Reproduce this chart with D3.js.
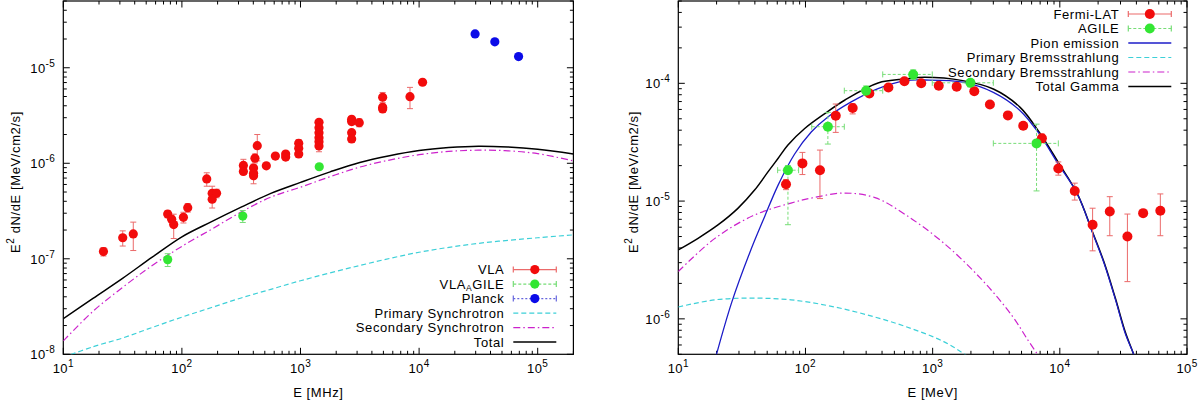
<!DOCTYPE html>
<html>
<head>
<meta charset="utf-8">
<script src="https://cdn.jsdelivr.net/npm/d3@7"></script>
<style>
	body { margin: 0; background: #fff; }
	svg text { font-family: "Liberation Sans", Arial, Helvetica, sans-serif; font-size: 13px; fill: #000; }
	svg text.lbl { letter-spacing: 0.6px; }
	svg text.tick { letter-spacing: 0.4px; }
</style>
</head>
<body>
<script>
// ---------- left panel: radio (E in MHz) ----------
var vlaE   = [21.8, 31.7, 38.9, 75.9, 82, 85.3, 103, 112, 162, 180, 196, 180, 330, 330, 402, 402, 402, 413, 432, 515, 614, 750, 750,
              966, 966, 966, 1432, 1432, 1432, 1432, 1432, 1432, 2700, 2700, 2700, 2700, 3130, 4930, 4930, 4930, 8380, 10700];
var vlaF   = [1.19e-7, 1.66e-7, 1.82e-7, 2.94e-7, 2.59e-7, 2.28e-7, 2.72e-7, 3.43e-7, 6.85e-7, 4.85e-7, 4.85e-7, 4.2e-7, 9.5e-7, 8.2e-7,
              8.9e-7, 7.85e-7, 7.4e-7, 1.13e-6, 1.53e-6, 9.4e-7, 1.19e-6, 1.25e-6, 1.16e-6, 1.62e-6, 1.44e-6, 1.25e-6,
              2.69e-6, 2.36e-6, 2.09e-6, 1.85e-6, 1.68e-6, 1.52e-6, 2.89e-6, 2.73e-6, 2.09e-6, 1.80e-6, 2.66e-6,
              4.91e-6, 3.85e-6, 3.71e-6, 4.98e-6, 7.05e-6];
var vlaErr = [0.12e-7, 0.3e-7, 0.6e-7, 0.25e-7, 0.2e-7, 0.65e-7, 0.35e-7, 0.35e-7, 1.1e-7, 0.9e-7, 0.5e-7, 0.8e-7, 1.5e-7, 0.6e-7,
              0.9e-7, 0.8e-7, 1.3e-7, 1.2e-7, 4.7e-7, 0.5e-7, 0.6e-7, 0.8e-7, 0.6e-7, 1.5e-7, 1.0e-7, 1.0e-7,
              1.0e-7, 1.0e-7, 1.0e-7, 1.0e-7, 1.0e-7, 2.0e-7, 2.0e-7, 2.0e-7, 1.5e-7, 1.5e-7, 2.5e-7,
              6.0e-7, 3.0e-7, 3.0e-7, 1.25e-6, 3.0e-7];

var vlaAgileE   = [75.9, 326, 1439];
var vlaAgileF   = [9.8e-8, 2.8e-7, 9.2e-7];
var vlaAgileErr = [1.5e-8, 0.4e-7, 0.5e-7];

var planckE = [29650, 43500, 69000];
var planckF = [2.26e-5, 1.87e-5, 1.31e-5];

var syncE     = [10, 17.8, 31.6, 56.2, 100, 178, 316, 562, 1000, 1778, 3162, 5623, 1e4, 17783, 31623, 56234, 1e5, 2e5];
var totalSync = [2.36e-8, 3.85e-8, 6.24e-8, 1.04e-7, 1.70e-7, 2.45e-7, 3.47e-7, 4.84e-7, 6.31e-7, 8.13e-7, 1.02e-6, 1.20e-6,
                 1.36e-6, 1.46e-6, 1.51e-6, 1.48e-6, 1.40e-6, 1.25e-6];
var secSync   = [1.38e-8, 2.82e-8, 5.01e-8, 8.51e-8, 1.35e-7, 2.04e-7, 3.09e-7, 4.42e-7, 5.62e-7, 7.24e-7, 9.12e-7, 1.08e-6,
                 1.23e-6, 1.33e-6, 1.37e-6, 1.35e-6, 1.26e-6, 1.06e-6];
var primSyncE = [10, 17.8, 31.6, 56.2, 100, 178, 316, 562, 1000, 3162, 1e4, 31623, 1e5, 2e5];
var primSync  = [9.3e-9, 1.20e-8, 1.48e-8, 1.91e-8, 2.45e-8, 3.09e-8, 3.89e-8, 4.79e-8, 5.89e-8, 8.51e-8, 1.17e-7, 1.45e-7, 1.66e-7, 1.78e-7];

// ---------- right panel: gamma (E in MeV) ----------
var fermiE  = [70.3, 94.6, 130, 173, 235, 318, 449, 600, 813, 1117, 1545, 2125, 2820, 3905, 5155, 7230, 9730, 13100, 18100, 24700, 34000, 45200, 61700];
var fermiF  = [1.39e-5, 2.09e-5, 1.83e-5, 5.31e-5, 6.17e-5, 8.2e-5, 9.2e-5, 1.04e-4, 1.0e-4, 9.55e-5, 9.37e-5, 8.55e-5, 6.62e-5,
               5.34e-5, 4.36e-5, 3.41e-5, 1.89e-5, 1.22e-5, 6.3e-6, 8.17e-6, 5.0e-6, 7.9e-6, 8.28e-6];
var fermiLo = [1.25e-5, 1.68e-5, 1.05e-5, 3.83e-5, 5.5e-5, 7.7e-5, 8.8e-5, 1.0e-4, 9.7e-5, 9.2e-5, 9.0e-5, 8.2e-5, 6.3e-5,
               5.05e-5, 4.1e-5, 3.15e-5, 1.66e-5, 1.02e-5, 3.78e-6, 5.08e-6, 2.07e-6, 7.6e-6, 5.08e-6];
var fermiHi = [1.52e-5, 2.59e-5, 2.71e-5, 6.67e-5, 6.7e-5, 8.7e-5, 9.6e-5, 1.08e-4, 1.03e-4, 9.9e-5, 9.7e-5, 8.9e-5, 6.95e-5,
               5.65e-5, 4.6e-5, 3.7e-5, 2.15e-5, 1.42e-5, 8.7e-6, 1.09e-5, 7.76e-6, 8.2e-6, 1.15e-5];

var agileE   = [72.8, 150, 300, 703, 1982, 6560];
var agileELo = [60.4, 112, 202, 405, 993, 3000];
var agileEHi = [88.3, 202, 405, 993, 3000, 9730];
var agileF   = [1.83e-5, 4.28e-5, 8.66e-5, 1.19e-4, 1.01e-4, 3.09e-5];
var agileFLo = [6.3e-6, 3.05e-5, 7.9e-5, 1.08e-4, 9.3e-5, 1.22e-5];
var agileFHi = [2.0e-5, 5.66e-5, 9.5e-5, 1.3e-4, 1.08e-4, 4.5e-5];

var pionE = [19.3, 26.3, 36.4, 47.8, 60.8, 82.2, 111, 150, 229, 372, 612, 865, 1726, 3000, 4875, 6887, 9727, 13740, 18110, 22280, 27420, 32660, 38020, 39810];
var pionF = [4.37e-7, 1.38e-6, 3.63e-6, 7.41e-6, 1.36e-5, 2.51e-5, 3.86e-5, 5.18e-5, 6.95e-5, 9.02e-5, 1.054e-4, 1.067e-4, 1.023e-4,
             8.38e-5, 5.86e-5, 3.72e-5, 2.06e-5, 1.15e-5, 5.35e-6, 2.97e-6, 1.45e-6, 7.55e-7, 5.01e-7, 4.27e-7];

var totGammaE = [10, 14.3, 20.5, 29.4, 39.8, 50.7, 60.8, 72.8, 98.6, 142, 203, 372, 612, 865, 1726, 3000, 4875, 6887, 9727, 13740,
                 18110, 22280, 27420, 32660, 38020, 39810];
var totGammaF = [3.85e-6, 4.83e-6, 6.27e-6, 8.67e-6, 1.24e-5, 1.77e-5, 2.30e-5, 2.99e-5, 4.13e-5, 5.53e-5, 7.18e-5, 1.007e-4, 1.089e-4,
                 1.125e-4, 1.054e-4, 8.95e-5, 6.25e-5, 3.84e-5, 2.13e-5, 1.15e-5, 5.43e-6, 3.02e-6, 1.48e-6, 7.76e-7, 5.01e-7, 4.3e-7];

var secBremE = [10, 19.3, 38.5, 76.9, 116, 202, 352, 612, 1222, 2438, 4246, 5598, 6653, 7000];
var secBremF = [2.52e-6, 4.8e-6, 7.5e-6, 9.62e-6, 1.07e-5, 1.17e-5, 1.07e-5, 7.66e-6, 4.40e-6, 2.15e-6, 1.05e-6, 6.62e-7, 5.01e-7, 4.5e-7];

var primBremE = [10, 19.3, 38.5, 76.9, 153, 306, 612, 1222, 1786, 1900];
var primBremF = [1.26e-6, 1.45e-6, 1.50e-6, 1.45e-6, 1.29e-6, 1.08e-6, 8.61e-7, 6.41e-7, 5.01e-7, 4.8e-7];

var RED = "#f20c0c", RED_ERR = "#eb6a6a", GREEN = "#33e633", GREEN_ERR = "#77dd77",
	BLUE = "#0b0be8", CYAN = "#3dd0d8", MAGENTA = "#cc22cc", PION = "#1c1cc8";

var svg = d3.select("body").append("svg")
	.attr("width", 1200)
	.attr("height", 400);

/*
* Sets up one log-log panel: frame, mirrored ticks, labels. Returns scales.
*/
function makePanel(p) {
	var x = d3.scaleLog().domain(p.xDomain).range([p.left, p.right]);
	var y = d3.scaleLog().domain(p.yDomain).range([p.bottom, p.top]);

	svg.append("clipPath").attr("id", p.id)
		.append("rect")
		.attr("x", p.left).attr("y", p.top)
		.attr("width", p.right - p.left).attr("height", p.bottom - p.top);

	var isMajor = function(v) {
		var l = Math.log10(v);
		return Math.abs(l - Math.round(l)) < 1e-6;
	};

	var axes = svg.append("g").attr("stroke", "#000").attr("stroke-width", 1);
	x.ticks().forEach(function(v) {
		var len = isMajor(v) ? 6.5 : 3.5, px = x(v);
		axes.append("line").attr("x1", px).attr("x2", px).attr("y1", p.bottom).attr("y2", p.bottom - len);
		axes.append("line").attr("x1", px).attr("x2", px).attr("y1", p.top).attr("y2", p.top + len);
	});
	y.ticks().forEach(function(v) {
		var len = isMajor(v) ? 6.5 : 3.5, py = y(v);
		axes.append("line").attr("y1", py).attr("y2", py).attr("x1", p.left).attr("x2", p.left + len);
		axes.append("line").attr("y1", py).attr("y2", py).attr("x1", p.right).attr("x2", p.right - len);
	});

	// tick labels, 10^n
	x.ticks().filter(isMajor).forEach(function(v) {
		var t = svg.append("text").attr("class", "tick").attr("x", x(v)).attr("y", p.bottom + 19).attr("text-anchor", "middle");
		t.append("tspan").text("10");
		t.append("tspan").attr("dy", -6).style("font-size", "10px").text(Math.round(Math.log10(v)));
	});
	y.ticks().filter(isMajor).forEach(function(v) {
		var t = svg.append("text").attr("class", "tick").attr("x", p.left - 8).attr("y", y(v) + 5).attr("text-anchor", "end");
		t.append("tspan").text("10");
		t.append("tspan").attr("dy", -6).style("font-size", "10px").text(Math.round(Math.log10(v)));
	});

	svg.append("rect")
		.attr("x", p.left).attr("y", p.top)
		.attr("width", p.right - p.left).attr("height", p.bottom - p.top)
		.attr("fill", "none").attr("stroke", "#000").attr("stroke-width", 1.2);

	svg.append("text")
		.attr("class", "lbl")
		.attr("x", (p.left + p.right) / 2).attr("y", 397)
		.attr("text-anchor", "middle")
		.text(p.xLabel);

	var yl = svg.append("text")
		.attr("class", "lbl")
		.attr("transform", "translate(" + p.yLabelX + "," + 182 + ") rotate(-90)")
		.attr("text-anchor", "middle");
	yl.append("tspan").text("E");
	yl.append("tspan").attr("dy", -6).style("font-size", "10px").text("2");
	yl.append("tspan").attr("dy", 6).text(" dN/dE [MeV/cm2/s]");

	var plot = svg.append("g").attr("clip-path", "url(#" + p.id + ")");
	return { x: x, y: y, plot: plot, p: p };
}

function drawCurve(panel, E, F, color, width, dash) {
	var line = d3.line()
		.x(function(d) { return panel.x(d[0]); })
		.y(function(d) { return panel.y(d[1]); })
		.curve(d3.curveCatmullRom.alpha(0.5));
	panel.plot.append("path")
		.datum(d3.zip(E, F))
		.attr("d", line)
		.attr("fill", "none")
		.attr("stroke", color)
		.attr("stroke-width", width)
		.attr("stroke-dasharray", dash || null);
}

function vBar(g, x, y1, y2, color, dash) {
	g.append("line").attr("x1", x).attr("x2", x).attr("y1", y1).attr("y2", y2)
		.attr("stroke", color).attr("stroke-dasharray", dash || null);
	[y1, y2].forEach(function(yy) {
		g.append("line").attr("x1", x - 3).attr("x2", x + 3).attr("y1", yy).attr("y2", yy)
			.attr("stroke", color);
	});
}

function hBar(g, y, x1, x2, color, dash) {
	g.append("line").attr("x1", x1).attr("x2", x2).attr("y1", y).attr("y2", y)
		.attr("stroke", color).attr("stroke-dasharray", dash || null);
	[x1, x2].forEach(function(xx) {
		g.append("line").attr("x1", xx).attr("x2", xx).attr("y1", y - 3).attr("y2", y + 3)
			.attr("stroke", color);
	});
}

function drawPoints(panel, E, F, color, r) {
	panel.plot.selectAll(null)
		.data(d3.zip(E, F))
		.enter().append("circle")
		.attr("cx", function(d) { return panel.x(d[0]); })
		.attr("cy", function(d) { return panel.y(d[1]); })
		.attr("r", r)
		.attr("fill", color);
}

/*
* gnuplot style key, text right aligned then a sample
*/
function drawKey(panel, rows, firstY) {
	var p = panel.p;
	var tx = p.left + 441, s1 = p.left + 450, s2 = p.left + 493;
	rows.forEach(function(row, i) {
		var cy = firstY + i * 14.5;
		var t = svg.append("text").attr("class", "lbl").attr("x", tx).attr("y", cy + 4.5).attr("text-anchor", "end");
		if (row.sub) {
			t.append("tspan").text(row.label);
			t.append("tspan").attr("dy", 2).style("font-size", "8.5px").text(row.sub);
			t.append("tspan").attr("dy", -2).text(row.rest);
		} else {
			t.text(row.label);
		}
		var g = svg.append("g").attr("stroke-width", row.width || 1.2);
		if (row.bar) {
			hBar(g, cy, s1, s2, row.color, row.dash);
		} else {
			g.append("line").attr("x1", s1).attr("x2", s2).attr("y1", cy).attr("y2", cy)
				.attr("stroke", row.color).attr("stroke-dasharray", row.dash || null);
		}
		if (row.dot) {
			svg.append("circle").attr("cx", (s1 + s2) / 2).attr("cy", cy).attr("r", row.r).attr("fill", row.dot);
		}
	});
}

// ---------- left panel ----------
var left = makePanel({
	id: "clipL", left: 63.3, right: 573.4, top: 1, bottom: 354.3,
	xDomain: [10, 2e5], yDomain: [1e-8, 5e-5],
	xLabel: "E [MHz]", yLabelX: 20
});

drawCurve(left, primSyncE, primSync, CYAN, 1.2, "5,3");
drawCurve(left, syncE, secSync, MAGENTA, 1.2, "7,3,1.5,3");
drawCurve(left, syncE, totalSync, "#000", 1.5);

var errL = left.plot.append("g").attr("stroke-width", 1);
vlaE.forEach(function(e, i) {
	vBar(errL, left.x(e), left.y(vlaF[i] - vlaErr[i]), left.y(vlaF[i] + vlaErr[i]), RED_ERR);
});
vlaAgileE.forEach(function(e, i) {
	vBar(errL, left.x(e), left.y(vlaAgileF[i] - vlaAgileErr[i]), left.y(vlaAgileF[i] + vlaAgileErr[i]), GREEN_ERR, "3,2");
});
drawPoints(left, vlaE, vlaF, RED, 4.6);
drawPoints(left, vlaAgileE, vlaAgileF, GREEN, 4.6);
drawPoints(left, planckE, planckF, BLUE, 4.6);

drawKey(left, [
	{ label: "VLA", color: RED_ERR, bar: true, dot: RED, r: 4.6 },
	{ label: "VLA", sub: "A", rest: "GILE", color: GREEN_ERR, bar: true, dash: "3,2", dot: GREEN, r: 4.6 },
	{ label: "Planck", color: "#6666dd", bar: true, dash: "2,2", dot: BLUE, r: 4.6 },
	{ label: "Primary Synchrotron", color: CYAN, dash: "5,3" },
	{ label: "Secondary Synchrotron", color: MAGENTA, dash: "7,3,1.5,3" },
	{ label: "Total", color: "#000", width: 1.5 }
], 269.6);

// ---------- right panel ----------
var right = makePanel({
	id: "clipR", left: 678.3, right: 1187, top: 1, bottom: 354.3,
	xDomain: [10, 1e5], yDomain: [5e-7, 5e-4],
	xLabel: "E [MeV]", yLabelX: 638
});

drawCurve(right, primBremE, primBremF, CYAN, 1.2, "5,3");
drawCurve(right, secBremE, secBremF, MAGENTA, 1.2, "7,3,1.5,3");
drawCurve(right, totGammaE, totGammaF, "#000", 1.5);
drawCurve(right, pionE, pionF, PION, 1.3);

var errR = right.plot.append("g").attr("stroke-width", 1);
agileE.forEach(function(e, i) {
	vBar(errR, right.x(e), right.y(agileFLo[i]), right.y(agileFHi[i]), GREEN_ERR, "3,2");
	hBar(errR, right.y(agileF[i]), right.x(agileELo[i]), right.x(agileEHi[i]), GREEN_ERR, "3,2");
});
fermiE.forEach(function(e, i) {
	vBar(errR, right.x(e), right.y(fermiLo[i]), right.y(fermiHi[i]), RED_ERR);
});
drawPoints(right, fermiE, fermiF, RED, 5);
drawPoints(right, agileE, agileF, GREEN, 5);

drawKey(right, [
	{ label: "Fermi-LAT", color: RED_ERR, bar: true, dot: RED, r: 5 },
	{ label: "AGILE", color: GREEN_ERR, bar: true, dash: "3,2", dot: GREEN, r: 5 },
	{ label: "Pion emission", color: PION, width: 1.3 },
	{ label: "Primary Bremsstrahlung", color: CYAN, dash: "5,3" },
	{ label: "Secondary Bremsstrahlung", color: MAGENTA, dash: "7,3,1.5,3" },
	{ label: "Total Gamma", color: "#000", width: 1.5 }
], 14);
</script>
</body>
</html>
